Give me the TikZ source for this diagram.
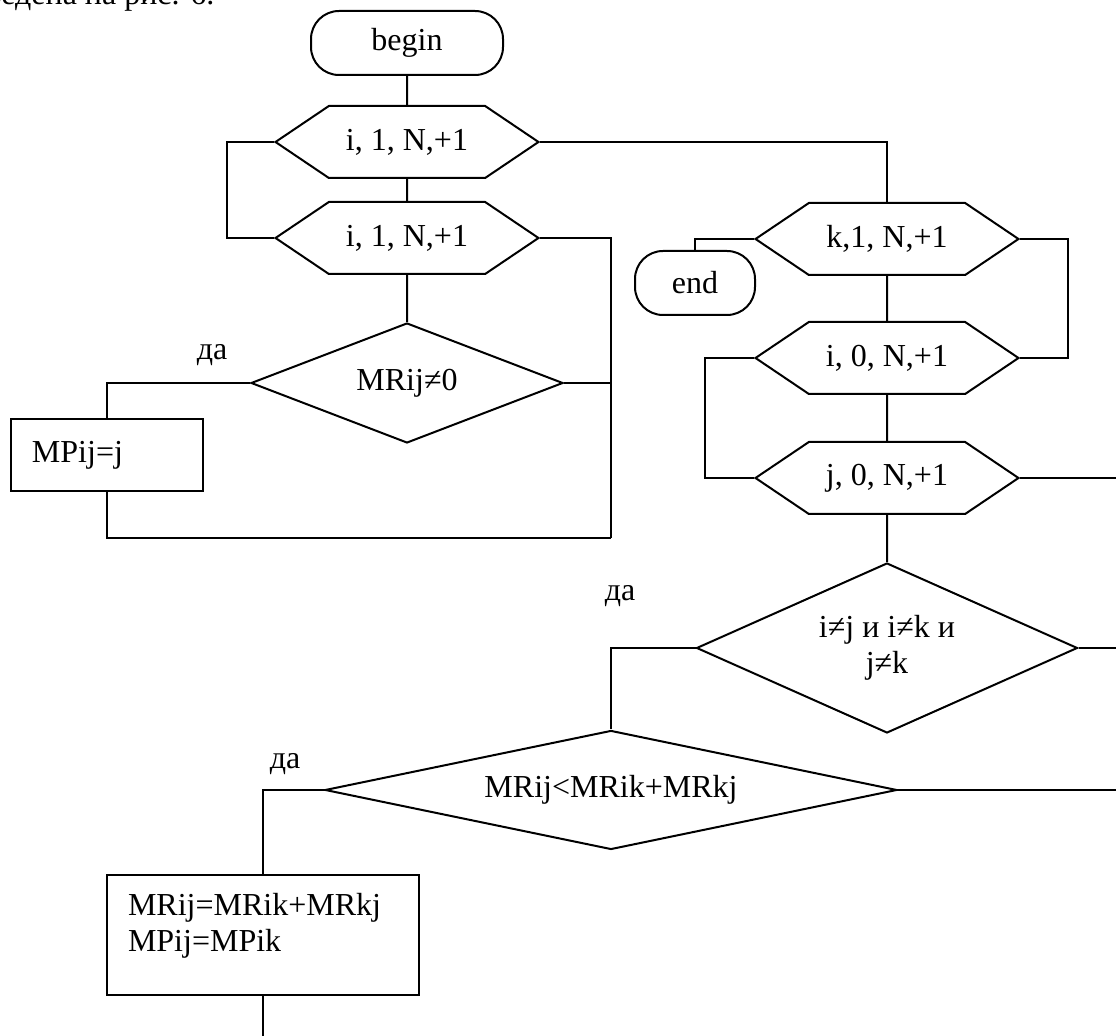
\documentclass[tikz,border=0pt]{standalone}
\usepackage{fontspec}
\setmainfont{Liberation Serif}
\usepackage{tikz}
\usetikzlibrary{shapes.geometric, shapes.symbols}
\tikzstyle{chart}=[x=0.5pt, y=-0.5pt, line width=1pt, font=\fontsize{16}{18}\selectfont]
\tikzstyle{terminal}=[draw, rectangle, rounded corners=14pt, minimum height=32pt, inner sep=0pt]
\tikzstyle{forloop}=[draw, signal, signal to=west and east, signal pointer angle=68, minimum width=131.5pt, minimum height=36pt, inner sep=0pt]
\tikzstyle{decision}=[draw, diamond, inner sep=0pt, align=center]
\tikzstyle{process}=[draw, rectangle, align=left, inner xsep=10.5pt]

\begin{document}
\begin{tikzpicture}[chart]
  \useasboundingbox (0,0) rectangle (1116,1036);
  \clip (0,0) rectangle (1116,1036);
  \node[anchor=base east] (intro) at (222,5) {приведена на рис. 6.};
  % left part
  \node[terminal, minimum width=96pt] (0) at (407,43) {begin};
  \node[forloop] (1) at (407,142) {i, 1, N,+1};
  \node[forloop] (2) at (407,238) {i, 1, N,+1};
  \node[decision, aspect=2.6, minimum width=156pt, minimum height=60pt] (3) at (407,383) {MRij≠0};
  \node[process, minimum width=96pt, minimum height=36pt, text width=75pt] (4) at (107,455) {MPij=j};
  \coordinate (back) at (611,538);
  \node (yes1) at (212,355) {да};
  % right part
  \node[terminal, minimum width=60pt] (5) at (695,283) {end};
  \node[forloop] (6) at (887,239) {k,1, N,+1};
  \node[forloop] (7) at (887,358) {i, 0, N,+1};
  \node[forloop] (8) at (887,478) {j, 0, N,+1};
  \node[decision, aspect=2.24, minimum width=190.5pt, minimum height=85pt] (9) at (887,648) {i≠j и i≠k и\\j≠k};
  \node[decision, aspect=4.8, minimum width=286pt, minimum height=59.5pt] (10) at (611,790) {MRij<MRik+MRkj};
  \node[process, minimum width=156pt, minimum height=60pt, text width=135pt, text depth=31pt] (11) at (263,935) {MRij=MRik+MRkj\\MPij=MPik};
  \node (yes2) at (620,596) {да};
  \node (yes3) at (285,764) {да};
  \coordinate (out8) at (1116,478);
  \coordinate (out9) at (1116,648);
  \coordinate (out10) at (1116,790);
  \coordinate (out11) at (263,1036);

  \draw (0) -- (1);
  \draw (1) -- (2);
  \draw (1.west) -- ++(-47,0) |- (2.west);
  \draw (1.east) -| (6.north);
  \draw (2.east) -| (back);
  \draw (2) -- (3);
  \draw (3.east) -- (3.east -| back);
  \draw (3.west) -| (4.north);
  \draw (4.south) |- (back);

  \draw (6.west) -| (5.north);
  \draw (6.east) -- ++(48,0) |- (7.east);
  \draw (6) -- (7);
  \draw (7.west) -- ++(-49,0) |- (8.west);
  \draw (7) -- (8);
  \draw (8.east) -- (out8);
  \draw (8) -- (9);
  \draw (9.east) -- (out9);
  \draw (9.west) -| (10.north);
  \draw (10.east) -- (out10);
  \draw (10.west) -| (11.north);
  \draw (11) -- (out11);
\end{tikzpicture}
\end{document}
